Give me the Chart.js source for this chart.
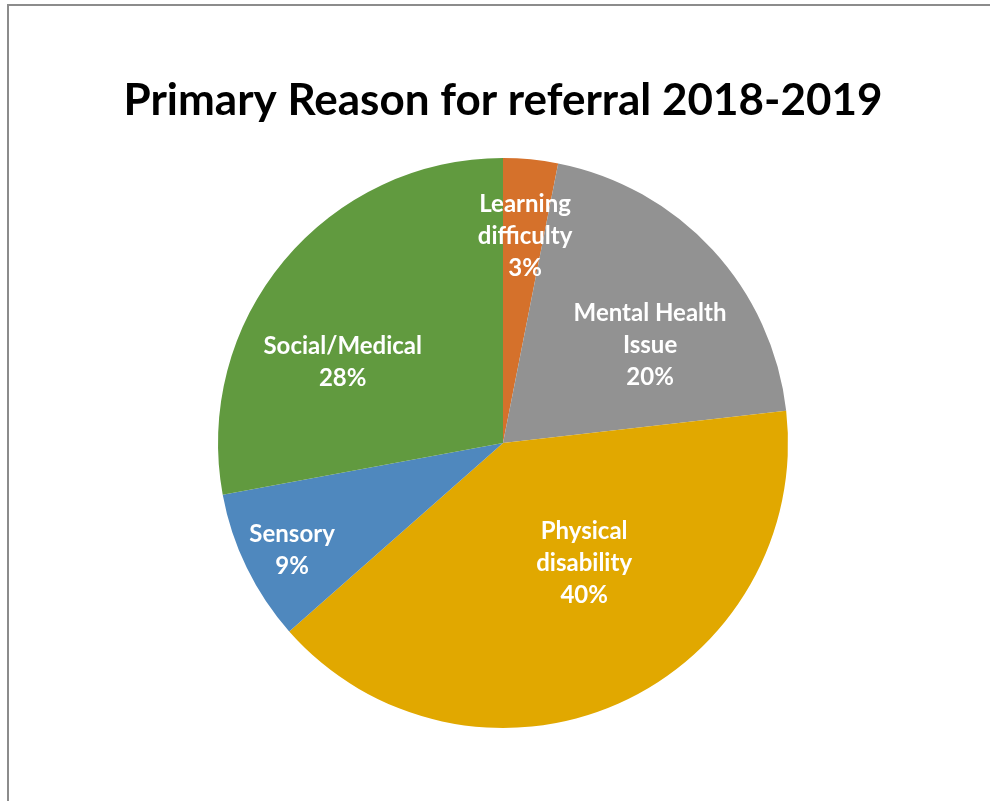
<!DOCTYPE html>
<html>
<head>
<meta charset="utf-8">
<script src="https://cdn.jsdelivr.net/npm/chart.js@4"></script>
<style>
    body { margin: 0; background: #fff; }
    #wrap { position: relative; width: 990px; height: 801px; }
    #frame {
        position: absolute; left: 7px; top: 4px; width: 990px; height: 810px;
        border-left: 2px solid #8c8c8c; border-top: 2px solid #8c8c8c;
        box-sizing: border-box; pointer-events: none;
    }
</style>
</head>
<body>
<div id="wrap">
    <canvas id="chart"></canvas>
    <div id="frame"></div>
</div>
<script>
const categories = ['Learning difficulty', 'Mental Health Issue', 'Physical disability', 'Sensory', 'Social/Medical'];
const labelLines = [['Learning', 'difficulty'], ['Mental Health', 'Issue'], ['Physical', 'disability'], ['Sensory'], ['Social/Medical']];
const shares = [3.1, 20.1, 40.3, 8.6, 27.9];
const colors = ['#D5712B', '#929292', '#E1A800', '#4F88BE', '#619A3F'];

// where each label sits: fraction of radius, and turn (degrees) from the slice middle
const labelSpots = [
    { r: 0.73, turn: 0.5 },
    { r: 0.62, turn: 9 },
    { r: 0.51, turn: -10 },
    { r: 0.83, turn: -1 },
    { r: 0.63, turn: -13 },
];

const sliceLabels = {
    id: 'sliceLabels',
    afterDatasetsDraw(chart) {
        const ctx = chart.ctx;
        const meta = chart.getDatasetMeta(0);
        const total = shares.reduce((a, b) => a + b, 0);
        ctx.save();
        ctx.fillStyle = '#fff';
        ctx.font = 'bold 24px Lato';
        ctx.textAlign = 'center';
        ctx.textBaseline = 'middle';
        meta.data.forEach((arc, i) => {
            const p = arc.getProps(['x', 'y', 'startAngle', 'endAngle', 'outerRadius'], true);
            const mid = (p.startAngle + p.endAngle) / 2 + labelSpots[i].turn * Math.PI / 180;
            const d = p.outerRadius * labelSpots[i].r;
            const cx = p.x + Math.cos(mid) * d;
            const cy = p.y + Math.sin(mid) * d;
            const lines = labelLines[i].concat([Math.round(shares[i] / total * 100) + '%']);
            const step = 32;
            const top = cy - (lines.length - 1) * step / 2;
            lines.forEach((t, j) => ctx.fillText(t, cx, top + j * step));
        });
        ctx.restore();
    }
};

new Chart(document.getElementById('chart'), {
    type: 'pie',
    data: {
        labels: categories,
        datasets: [{
            data: shares,
            backgroundColor: colors,
            borderWidth: 0,
        }],
    },
    options: {
        responsive: true,
        maintainAspectRatio: false,
        animation: false,
        layout: { padding: { top: 0, bottom: 73, left: 16, right: 0 } },
        plugins: {
            legend: { display: false },
            tooltip: { enabled: false },
            title: {
                display: true,
                text: 'Primary Reason for referral 2018-2019',
                color: '#000',
                font: { family: 'Lato', size: 44, weight: 'bold', lineHeight: 1.2 },
                padding: { top: 74.6, bottom: 30.6 },
            },
        },
    },
    plugins: [sliceLabels],
});
</script>
</body>
</html>
